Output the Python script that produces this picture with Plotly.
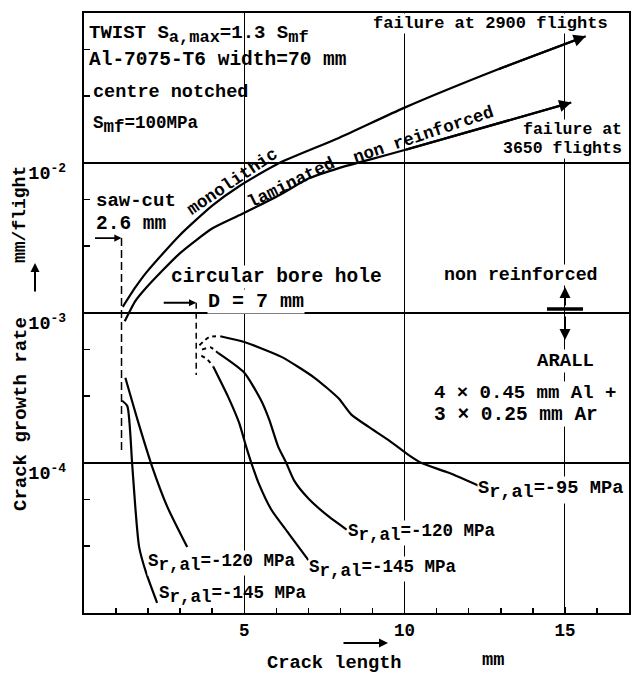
import math
import plotly.graph_objects as go

# ---------------- data ----------------
# crack length [mm] / crack growth rate [mm/flight]
mono_x = [1.21, 1.6, 1.96, 2.98, 4.01, 4.84, 6.09, 7.95, 10.0, 12.9, 15.65]
mono_y = [1.10e-3, 1.48e-3, 1.88e-3, 3.29e-3, 5.22e-3, 7.0e-3, 1.0e-2, 1.47e-2, 2.34e-2, 4.2e-2, 7.0e-2]

lam_x = [1.27, 1.6, 1.96, 2.98, 4.01, 4.84, 6.09, 7.02, 7.95, 8.88, 10.0, 15.2]
lam_y = [8.8e-4, 1.2e-3, 1.49e-3, 2.49e-3, 3.67e-3, 4.48e-3, 6.1e-3, 7.9e-3, 9.25e-3, 1.05e-2, 1.22e-2, 2.53e-2]

# ARALL, from circular bore hole (dashed start, then solid)
b95_dash_x = [3.6, 3.9, 4.25]
b95_dash_y = [6.1e-4, 6.9e-4, 7.0e-4]
b95_x = [4.25, 5.0, 6.16, 7.19, 7.94, 8.34, 8.88, 9.5, 10.13, 10.53, 11.38, 12.41]
b95_y = [7.0e-4, 6.4e-4, 5.1e-4, 3.7e-4, 2.7e-4, 2.1e-4, 1.74e-4, 1.42e-4, 1.13e-4, 1.0e-4, 8.6e-5, 6.9e-5]

b120_dash_x = [3.68, 3.95, 4.19]
b120_dash_y = [5.7e-4, 5.9e-4, 5.4e-4]
b120_x = [4.19, 5.0, 5.53, 5.78, 6.06, 6.31, 6.56, 7.0, 7.63, 8.19]
b120_y = [5.4e-4, 4.0e-4, 2.6e-4, 1.94e-4, 1.28e-4, 1.0e-4, 7.6e-5, 5.8e-5, 4.4e-5, 3.6e-5]

b145_dash_x = [3.66, 3.85, 4.03]
b145_dash_y = [5.2e-4, 4.9e-4, 4.4e-4]
b145_x = [4.03, 4.5, 4.84, 5.06, 5.22, 5.44, 5.84, 6.38, 7.0]
b145_y = [4.4e-4, 2.75e-4, 1.85e-4, 1.28e-4, 1.0e-4, 7.4e-5, 4.9e-5, 3.4e-5, 2.25e-5]

# ARALL, from saw-cut
s120_x = [1.29, 1.67, 2.13, 2.6, 3.22]
s120_y = [3.7e-4, 1.94e-4, 9.4e-5, 5.1e-5, 2.75e-5]

s145_x = [1.19, 1.35, 1.5, 1.6, 1.72, 1.94, 2.28]
s145_y = [2.6e-4, 2.4e-4, 1.0e-4, 5.1e-5, 2.75e-5, 1.85e-5, 1.17e-5]

# notch markers
sawcut_x = [1.17, 1.17]
sawcut_y = [3.16e-3, 1.18e-4]
bore_x = [3.5, 3.5]
bore_y = [1.17e-3, 3.86e-4]

x_ticks = [5, 10, 15]
x_minor = [1, 2, 3, 4, 6, 7, 8, 9, 11, 12, 13, 14, 16]
y_ticks = [1e-4, 1e-3, 1e-2]
y_ticktext = ["10<sup>-4</sup>", "10<sup>-3</sup>", "10<sup>-2</sup>"]
y_minor = [2.8e-5, 5.7e-5, 2.8e-4, 5.7e-4, 2.8e-3, 5.7e-3, 2.8e-2, 5.7e-2]

# ---------------- figure ----------------
W, H = 634, 673
ML, MR, MT, MB = 84, 5, 13, 60
PW, PH = W - ML - MR, H - MT - MB
FONT = "Liberation Mono"
BLK = "black"


def px_x(px):
    return (px - ML) / PW


def px_y(py):
    return (H - MB - py) / PH


def sub(s, size):
    return '<sub><span style="font-size:%spx">%s</span></sub>' % (size, s)


def txt(s, px, py, size, xanchor="left", angle=0, bg=False):
    d = dict(text=s, x=px_x(px), y=px_y(py), xref="paper", yref="paper",
             xanchor=xanchor, yanchor="middle", showarrow=False, textangle=angle,
             font=dict(family=FONT, size=size, color=BLK, weight="bold"),
             borderpad=0)
    if bg:
        d["bgcolor"] = "white"
    return d


fig = go.Figure()


def line(x, y, dash="solid", width=2.2):
    fig.add_trace(go.Scatter(x=x, y=y, mode="lines", showlegend=False,
                             line=dict(color=BLK, width=width, dash=dash, shape="spline",
                                       smoothing=0.6),
                             hoverinfo="skip"))


line(mono_x, mono_y)
line(lam_x, lam_y)
line(b95_dash_x, b95_dash_y, dash="4px,4px", width=2)
line(b95_x, b95_y)
line(b120_dash_x, b120_dash_y, dash="4px,4px", width=2)
line(b120_x, b120_y)
line(b145_dash_x, b145_dash_y, dash="4px,4px", width=2)
line(b145_x, b145_y)
line(s120_x, s120_y)
line(s145_x, s145_y)
line(sawcut_x, sawcut_y, dash="8px,4px", width=1.5)
line(bore_x, bore_y, dash="6px,4px", width=1.5)

annotations = []


def data_arrow(xs, ys):
    return dict(x=xs[-1], y=math.log10(ys[-1]), ax=xs[-2], ay=math.log10(ys[-2]),
                xref="x", yref="y", axref="x", ayref="y", text="", showarrow=True,
                arrowhead=2, arrowsize=1.1, arrowwidth=2.2, arrowcolor=BLK)


annotations.append(data_arrow(mono_x, mono_y))
annotations.append(data_arrow(lam_x, lam_y))


def px_arrow(tx, ty, dx, dy, head=2, size=1.0, width=2):
    # tip at page pixel (tx,ty), tail offset (dx,dy) in pixels
    return dict(x=px_x(tx), y=px_y(ty), xref="paper", yref="paper", ax=dx, ay=dy,
                text="", showarrow=True, arrowhead=head, arrowsize=size,
                arrowwidth=width, arrowcolor=BLK)


# notch arrows
annotations.append(dict(x=sawcut_x[0], y=math.log10(sawcut_y[0]), xref="x", yref="y",
                        ax=-28, ay=0, text="", showarrow=True, arrowhead=2,
                        arrowsize=0.8, arrowwidth=1.8, arrowcolor=BLK))
annotations.append(dict(x=bore_x[0], y=math.log10(bore_y[0]), xref="x", yref="y",
                        ax=-34, ay=0, text="", showarrow=True, arrowhead=2,
                        arrowsize=0.8, arrowwidth=1.8, arrowcolor=BLK))
# non reinforced / ARALL arrows
annotations.append(px_arrow(565, 287, 0, 20, head=2, size=1.1, width=2))
annotations.append(px_arrow(565, 340, 0, -25, head=2, size=1.1, width=2))
# axis title arrows
annotations.append(px_arrow(35, 263, 0, 30, head=2, size=0.9, width=2))
annotations.append(px_arrow(388, 643, -46, 0, head=2, size=0.9, width=2))

# texts
annotations += [
    txt("TWIST S" + sub("a,max", 17) + "=1.3 S" + sub("mf", 17), 88, 35, 19),
    txt("Al-7075-T6 width=70 mm", 88, 60, 19.5),
    txt("centre notched", 92, 92, 18.5),
    txt("S" + sub("mf", 17.5) + "=100MPa", 92, 125, 17.5),
    txt("failure at 2900 flights", 372, 24, 17, bg=True),
    txt("failure at", 623, 129, 16.5, xanchor="right", bg=True),
    txt("3650 flights", 623, 148, 16.5, xanchor="right", bg=True),
    txt("monolithic", 232, 182, 17.5, xanchor="center", angle=-34),
    txt("laminated", 291, 183, 17.5, xanchor="center", angle=-26),
    txt("non reinforced", 423, 135, 17.5, xanchor="center", angle=-18.5),
    txt("saw-cut", 95, 201, 19),
    txt("2.6 mm", 95, 224, 19.5),
    txt("circular bore hole", 170, 277, 19.5, bg=True),
    txt("D = 7 mm", 207, 301, 20, bg=True),
    txt("non reinforced", 443, 275, 18.3, bg=True),
    txt("ARALL", 565, 361, 19, xanchor="center", bg=True),
    txt("4 × 0.45 mm Al +", 433, 393, 19, bg=True),
    txt("3 × 0.25 mm Ar", 433, 415, 19.5, bg=True),
    txt("S" + sub("r,al", 18.5) + "=-95 MPa", 477, 490, 18.7, bg=True),
    txt("S" + sub("r,al", 17.5) + "=-120 MPa", 347, 533, 17.5, bg=True),
    txt("S" + sub("r,al", 17.5) + "=-145 MPa", 308, 569, 17.5, bg=True),
    txt("S" + sub("r,al", 17.5) + "=-120 MPa", 147, 563, 17.5, bg=True),
    txt("S" + sub("r,al", 17.5) + "=-145 MPa", 158, 595, 17.5),
    txt("Crack length", 334, 663, 18.7, xanchor="center"),
    txt("mm", 493, 660, 18.7, xanchor="center"),
    txt("Crack growth rate", 21, 414, 19, xanchor="center", angle=-90),
    txt("mm/flight", 20, 215, 18, xanchor="center", angle=-90),
]

shapes = [
    # gap of the x=5 grid line in the text block of the original
    dict(type="rect", xref="paper", yref="paper", x0=px_x(200), x1=px_x(290),
         y0=px_y(141), y1=1, fillcolor="white", line=dict(width=0), layer="between"),
    # bar between the arrows
    dict(type="line", xref="paper", yref="paper", x0=px_x(547), x1=px_x(583),
         y0=px_y(309), y1=px_y(309), line=dict(color=BLK, width=3.5), layer="above"),
]

axis_font = dict(family=FONT, size=17.5, color=BLK, weight="bold")
ytick_font = dict(family=FONT, size=18.5, color=BLK, weight="bold")

fig.update_layout(
    width=W, height=H,
    margin=dict(l=ML, r=MR, t=MT, b=MB, autoexpand=False),
    paper_bgcolor="white", plot_bgcolor="white",
    showlegend=False,
    hovermode=False,
    annotations=annotations,
    shapes=shapes,
    xaxis=dict(range=[0, 17], tickvals=x_ticks, ticks="inside", ticklen=6,
               tickwidth=1.5, tickcolor=BLK, tickfont=axis_font, automargin=False,
               showgrid=True, gridcolor=BLK, gridwidth=1.2,
               showline=True, linecolor=BLK, linewidth=2.2, mirror=True,
               zeroline=False,
               minor=dict(tickvals=x_minor, ticks="inside", ticklen=5,
                          tickwidth=1.5, tickcolor=BLK, showgrid=False)),
    yaxis=dict(type="log", range=[-5, -1], tickvals=y_ticks, ticktext=y_ticktext,
               ticks="", tickfont=ytick_font, ticklabelstandoff=12, ticklabelshift=10,
               automargin=False,
               showgrid=True, gridcolor=BLK, gridwidth=2.4,
               showline=True, linecolor=BLK, linewidth=2.2, mirror=True,
               zeroline=False,
               minor=dict(tickvals=y_minor, ticks="inside", ticklen=6,
                          tickwidth=1.5, tickcolor=BLK, showgrid=False)),
)

fig.write_html("out.html", config={"displayModeBar": False, "staticPlot": True},
               post_script="document.body.style.margin='0';")
